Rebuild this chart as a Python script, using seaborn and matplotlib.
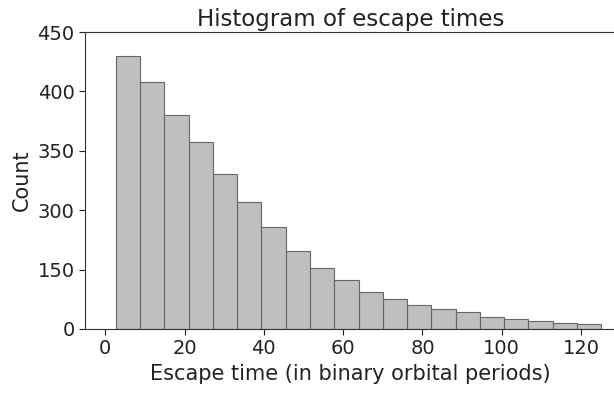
import matplotlib
matplotlib.use("Agg")
import matplotlib.pyplot as plt
import seaborn as sns
import numpy as np

# Histogram bins (escape time, binary orbital periods) and counts (axis units)
bin_edges = [2.6, 8.7, 14.8, 21.0, 27.1, 33.2, 39.3, 45.5, 51.6, 57.7, 63.9,
             70.0, 76.1, 82.2, 88.4, 94.5, 100.6, 106.7, 112.9, 119.0, 125.1]
counts = [459, 416, 361, 315, 261, 214, 171, 132, 103, 82,
          63, 50, 41, 34, 28, 21, 16, 13, 10, 8]
ytick_pos = [0, 100, 200, 300, 400, 500]
ytick_labels = ["0", "150", "300", "350", "400", "450"]
xtick_pos = [0, 20, 40, 60, 80, 100, 120]

centers = [(a + b) / 2 for a, b in zip(bin_edges[:-1], bin_edges[1:])]

sns.set_style("ticks")
plt.rcParams["font.family"] = ["DejaVu Sans"]

fig = plt.figure(figsize=(6.14, 3.94), dpi=100)
ax = fig.add_axes([85 / 614, 65 / 394, (616 - 85) / 614, (329 - 32) / 394])

sns.histplot(x=centers, weights=counts, bins=bin_edges, ax=ax,
             color="gray", alpha=0.5, edgecolor="#666666", linewidth=0.8)

ax.set_xlim(-5.1, 128.8)
ax.set_ylim(0, 500)
ax.set_yticks(ytick_pos)
ax.set_yticklabels(ytick_labels)
ax.set_xticks(xtick_pos)
ax.tick_params(axis="both", labelsize=14, length=4, colors="#222222")
ax.set_xlabel("Escape time (in binary orbital periods)", fontsize=15, color="#222222")
ax.set_ylabel("Count", fontsize=15, color="#222222")
ax.set_title("Histogram of escape times", fontsize=16.5, color="#222222", pad=4)
for s in ax.spines.values():
    s.set_color("#333333")

fig.savefig("out.png", dpi=100)
